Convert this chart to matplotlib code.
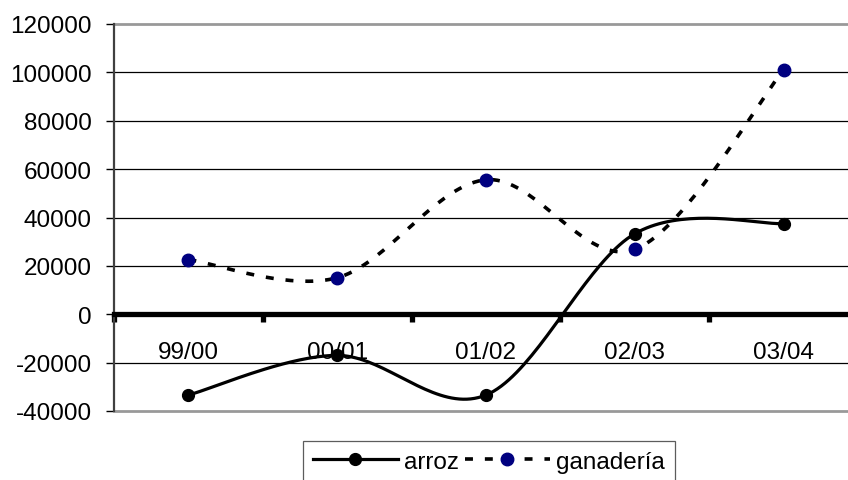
import numpy as np
import matplotlib
matplotlib.use("Agg")
import matplotlib.pyplot as plt
from matplotlib.lines import Line2D

# Campaign years and balances
categories = ["99/00", "00/01", "01/02", "02/03", "03/04"]
arroz = [-33400, -17000, -33400, 33300, 37500]
ganaderia = [22600, 15100, 55600, 26800, 101000]
y_ticks = [-40000, -20000, 0, 20000, 40000, 60000, 80000, 100000, 120000]

plt.rcParams["font.family"] = ["Liberation Sans", "DejaVu Sans"]
FS = 17.5
DASH = (2.2, 3.3)


def smooth(xs, ys, n=40):
    """Catmull-Rom style cubic Bezier smoothing through every point."""
    p = np.column_stack([xs, ys]).astype(float)
    ext = np.vstack([p[0], p, p[-1]])
    out = []
    t = np.linspace(0, 1, n)[:, None]
    for i in range(len(p) - 1):
        p0, p1, p2, p3 = ext[i], ext[i + 1], ext[i + 2], ext[i + 3]
        c1 = p1 + (p2 - p0) / 6.0
        c2 = p2 - (p3 - p1) / 6.0
        seg = ((1 - t) ** 3) * p1 + 3 * ((1 - t) ** 2) * t * c1 + 3 * (1 - t) * t ** 2 * c2 + t ** 3 * p2
        out.append(seg if i == 0 else seg[1:])
    s = np.vstack(out)
    return s[:, 0], s[:, 1]


fig = plt.figure(figsize=(8.48, 4.81), dpi=100)
ax = fig.add_axes([114 / 848, 1 - 412 / 481, 744 / 848, 387 / 481])

x = np.arange(len(categories))

# horizontal gridlines
ax.set_ylim(y_ticks[0], y_ticks[-1])
ax.set_yticks(y_ticks)
for v in y_ticks[1:-1]:
    if v != 0:
        ax.axhline(v, color="black", lw=0.9, zorder=1)

# smoothed series
sx, sy = smooth(x, arroz)
ax.plot(sx, sy, color="black", lw=2.3, solid_capstyle="round", zorder=3)
ax.plot(x, arroz, "o", color="black", ms=8.5, zorder=4)

gx, gy = smooth(x, ganaderia)
ax.plot(gx, gy, color="black", lw=2.6, dashes=DASH, zorder=3)
ax.plot(x, ganaderia, "o", color="#000080", ms=9, zorder=4)

ax.set_xlim(-0.5, len(categories) - 0.5)

# frame
for side in ("top", "right"):
    ax.spines[side].set_visible(False)
ax.spines["left"].set_color("#404040")
ax.spines["left"].set_linewidth(1.6)
ax.plot([0, 1], [1, 1], transform=ax.transAxes, color="#999999", lw=2.0, clip_on=False, zorder=2)
ax.plot([0, 1], [0, 0], transform=ax.transAxes, color="#999999", lw=2.0, clip_on=False, zorder=2)

# category axis on the zero line
ax.spines["bottom"].set_position(("data", 0))
ax.spines["bottom"].set_linewidth(3.8)
ax.spines["bottom"].set_color("black")
ax.spines["bottom"].set_zorder(2.5)
ax.set_xticks(np.arange(-0.5, len(categories)), minor=False)
ax.set_xticklabels([])
ax.set_xticks(x, minor=True)
ax.set_xticklabels(categories, minor=True, fontsize=FS)
ax.tick_params(axis="x", which="major", direction="out", length=6, width=3.8, color="black")
ax.tick_params(axis="x", which="minor", length=0, pad=19)

ax.set_yticklabels([str(v) for v in y_ticks], fontsize=FS)
ax.tick_params(axis="y", direction="out", length=6, width=1.0, color="black", pad=10)

handles = [
    Line2D([], [], color="black", lw=2.3, marker="o", ms=8.5, label="arroz"),
    Line2D([], [], color="black", lw=2.6, dashes=DASH, marker="o", ms=9,
           markerfacecolor="#000080", markeredgecolor="#000080", label="ganadería"),
]
leg = fig.legend(handles=handles, loc="upper left", bbox_to_anchor=(303 / 848, 1 - 442 / 481),
                 ncol=2, fontsize=FS, frameon=True, fancybox=False, borderaxespad=0,
                 handlelength=3.5, handletextpad=0.25, columnspacing=0.25, borderpad=0.4,
                 numpoints=1)
leg.get_frame().set_edgecolor("#333333")
leg.get_frame().set_linewidth(0.9)

fig.savefig("out.png", dpi=100)
